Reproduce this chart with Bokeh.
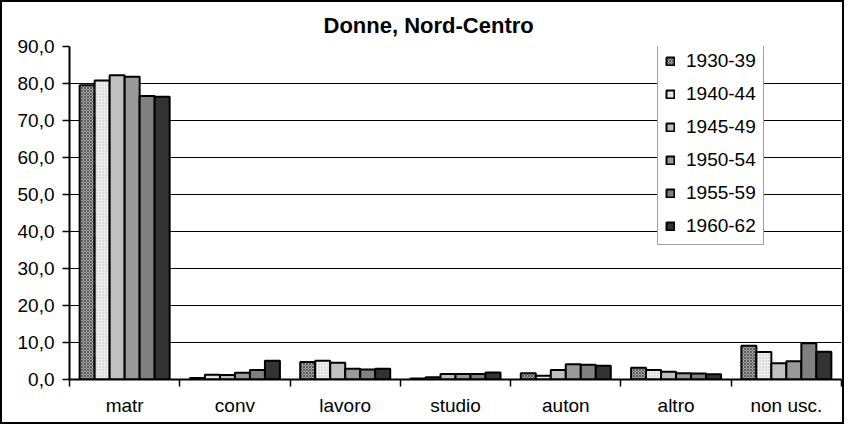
from bokeh.plotting import figure
from bokeh.models import ColumnDataSource, FixedTicker, CustomJSTickFormatter, Legend, LegendItem, Range1d
from bokeh.embed import file_html
from bokeh.resources import INLINE

categories = ["matr", "conv", "lavoro", "studio", "auton", "altro", "non usc."]
series = ["1930-39", "1940-44", "1945-49", "1950-54", "1955-59", "1960-62"]

v1930 = [79.5, 0.4, 4.7, 0.3, 1.7, 3.2, 9.1]
v1940 = [80.8, 1.3, 5.1, 0.6, 1.0, 2.6, 7.4]
v1945 = [82.2, 1.2, 4.5, 1.5, 2.6, 2.1, 4.4]
v1950 = [81.8, 1.8, 2.9, 1.5, 4.1, 1.7, 4.9]
v1955 = [76.6, 2.6, 2.7, 1.5, 4.0, 1.6, 9.8]
v1960 = [76.4, 5.1, 2.9, 1.9, 3.7, 1.4, 7.5]
values = [v1930, v1940, v1945, v1950, v1955, v1960]

y_ticks = list(range(0, 91, 10))

styles_list = [
    dict(fill_color="#a8a8a8", hatch_pattern="diagonal_cross", hatch_color="#5a5a5a", hatch_scale=3, hatch_weight=1),
    dict(fill_color="#eeeeee", hatch_pattern="dot", hatch_color="#bdbdbd", hatch_scale=3, hatch_weight=1),
    dict(fill_color="#c0c0c0"),
    dict(fill_color="#999999"),
    dict(fill_color="#808080"),
    dict(fill_color="#333333"),
]

FONT = "Liberation Sans"

p = figure(width=844, height=424, output_backend="svg", toolbar_location=None,
           x_range=Range1d(0, len(categories)), y_range=Range1d(0, 90),
           min_border_left=67, min_border_right=5, min_border_top=44, min_border_bottom=47,
           styles={"border": "2px solid black"})

p.title.text = "Donne, Nord-Centro"
p.title.align = "left"
p.title.offset = 254
p.title.standoff = 17
p.title.text_font = FONT
p.title.text_font_size = "22px"
p.title.text_font_style = "bold"
p.title.text_color = "black"

bw = 0.136
items = []
for i, (name, vals) in enumerate(zip(series, values)):
    xs = [k + 0.5 + (i - 2.5) * bw for k in range(len(categories))]
    src = ColumnDataSource(dict(x=xs, top=vals))
    r = p.vbar(x="x", top="top", bottom=0, width=bw, source=src,
               line_color="black", line_width=2, **styles_list[i])
    items.append(LegendItem(label=name, renderers=[r]))

legend = Legend(items=items, location=(588, 134), label_text_font=FONT,
                label_text_font_size="19px", label_text_color="black",
                glyph_width=10, glyph_height=10, label_height=22, label_standoff=11,
                spacing=11, padding=7, margin=0,
                border_line_color="#444444", border_line_width=1,
                background_fill_color="white", background_fill_alpha=1)
p.add_layout(legend, "center")

p.outline_line_color = None
p.xgrid.grid_line_color = None
p.ygrid.grid_line_color = "black"
p.ygrid.grid_line_width = 1
p.ygrid.ticker = FixedTicker(ticks=y_ticks)

p.yaxis.ticker = FixedTicker(ticks=y_ticks)
p.yaxis.formatter = CustomJSTickFormatter(code="return tick.toFixed(1).replace('.', ',')")
p.yaxis.major_tick_out = 7
p.yaxis.major_tick_in = 0
p.yaxis.major_tick_line_width = 1.5
p.yaxis.minor_tick_line_color = None
p.yaxis.axis_line_width = 2
p.yaxis.major_label_text_font = FONT
p.yaxis.major_label_text_font_size = "19px"
p.yaxis.major_label_text_color = "black"
p.yaxis.major_label_standoff = 8

centers = [k + 0.5 for k in range(len(categories))]
bounds = [float(k) for k in range(len(categories) + 1)]
p.xaxis.ticker = FixedTicker(ticks=centers, minor_ticks=bounds)
p.xaxis.major_label_overrides = {c: n for c, n in zip(centers, categories)}
p.xaxis.major_tick_line_color = None
p.xaxis.major_tick_out = 0
p.xaxis.major_tick_in = 0
p.xaxis.minor_tick_line_color = "black"
p.xaxis.minor_tick_line_width = 1.5
p.xaxis.minor_tick_out = 7
p.xaxis.minor_tick_in = 0
p.xaxis.axis_line_width = 2
p.xaxis.major_label_text_font = FONT
p.xaxis.major_label_text_font_size = "19px"
p.xaxis.major_label_text_color = "black"
p.xaxis.major_label_standoff = 8

open("out.html", "w").write(file_html(p, INLINE))
